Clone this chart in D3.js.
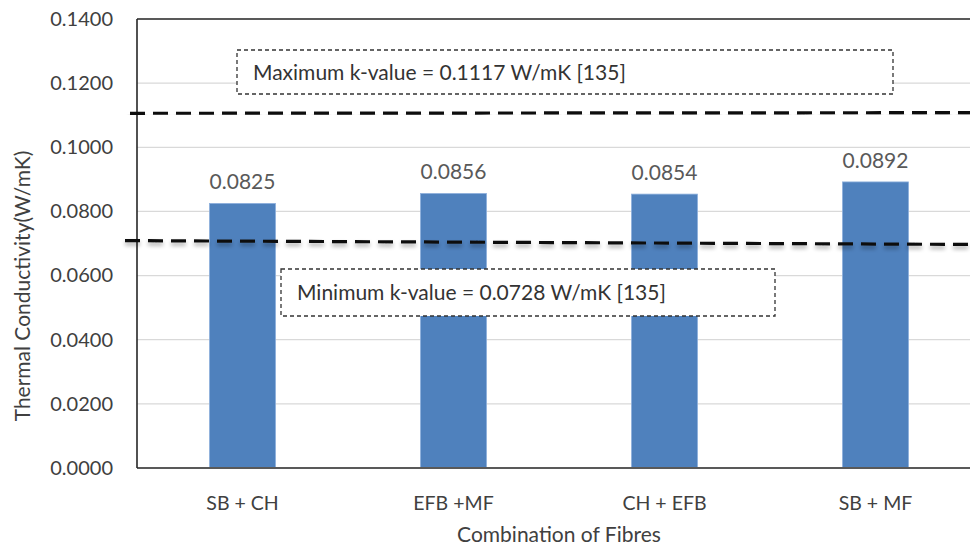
<!DOCTYPE html>
<html><head><meta charset="utf-8">
<script src="https://cdn.jsdelivr.net/npm/d3@7"></script>
<style>html,body{margin:0;padding:0;background:#fff;}svg{display:block;font-family:Lato,"Open Sans",sans-serif;}</style>
</head><body>
<svg id="c" width="970" height="548"></svg>
<script>
const categories = ["SB + CH", "EFB +MF", "CH + EFB", "SB + MF"];
const values = [0.0825, 0.0856, 0.0854, 0.0892];
const yTicks = [0, 0.02, 0.04, 0.06, 0.08, 0.10, 0.12, 0.14];
// reference lines as drawn (value at left end, value at right end)
const maxLine = [0.1106, 0.1108];
const minLine = [0.0709, 0.0697];
const maxText = "Maximum k-value = 0.1117 W/mK [135]";
const minText = "Minimum k-value = 0.0728 W/mK [135]";
const yTitle = "Thermal Conductivity(W/mK)";
const xTitle = "Combination of Fibres";

const svg = d3.select("#c");
const L = 137, R = 981, T = 19, B = 468;
const x = d3.scaleBand().domain(categories).range([L, R]).paddingInner(0.687).paddingOuter(0.3435);
const y = d3.scaleLinear().domain([0, 0.14]).range([B, T]);

const defs = svg.append("defs");
const f = defs.append("filter").attr("id","sh").attr("x","-5%").attr("y","-200%").attr("width","110%").attr("height","500%");
f.append("feGaussianBlur").attr("in","SourceAlpha").attr("stdDeviation",2.2).attr("result","b");
f.append("feOffset").attr("in","b").attr("dy",3).attr("result","o");
f.append("feComponentTransfer").attr("in","o").attr("result","oa").append("feFuncA").attr("type","linear").attr("slope",0.35);
const fm = f.append("feMerge"); fm.append("feMergeNode").attr("in","oa"); fm.append("feMergeNode").attr("in","SourceGraphic");

// gridlines
svg.append("g").selectAll("line").data(yTicks.filter(d=>d>0 && d<0.14)).join("line")
  .attr("x1", L).attr("x2", 970).attr("y1", d=>y(d)).attr("y2", d=>y(d))
  .attr("stroke", "#d9d9d9").attr("stroke-width", 1.2);

// y axis labels
const yAxis = d3.axisLeft(y).tickValues(yTicks).tickFormat(d3.format(".4f")).tickSize(0).tickPadding(24);
const ga = svg.append("g").attr("transform", `translate(${L},0)`).call(yAxis);
ga.select(".domain").remove();
ga.selectAll("text").attr("font-size", 20).attr("fill", "#404040").attr("font-family","Lato");

// bars
svg.append("g").selectAll("rect").data(values).join("rect")
  .attr("x", (d,i)=>x(categories[i])).attr("width", x.bandwidth())
  .attr("y", d=>y(d)).attr("height", d=>y(0)-y(d))
  .attr("fill", "#4f81bd").attr("stroke", "#8eb0dc").attr("stroke-width", 0.8);

// data labels
svg.append("g").selectAll("text").data(values).join("text")
  .attr("x", (d,i)=>x(categories[i]) + x.bandwidth()/2).attr("y", d=>y(d) - 14)
  .attr("text-anchor","middle").attr("font-size", 21).attr("fill","#595959")
  .text(d=>d3.format(".4f")(d));

// axes lines
svg.append("line").attr("x1",L).attr("x2",970).attr("y1",y(0.14)).attr("y2",y(0.14)).attr("stroke","#595959").attr("stroke-width",1.8);
svg.append("line").attr("x1",L).attr("x2",970).attr("y1",y(0)).attr("y2",y(0)).attr("stroke","#595959").attr("stroke-width",1.8);
svg.append("line").attr("x1",L).attr("x2",L).attr("y1",y(0.14)).attr("y2",y(0)).attr("stroke","#262626").attr("stroke-width",1.6);

// x axis labels
const xAxis = d3.axisBottom(x).tickSize(0).tickPadding(28);
const gx = svg.append("g").attr("transform", `translate(0,${B})`).call(xAxis);
gx.select(".domain").remove();
gx.selectAll("text").attr("font-size", 19.5).attr("fill","#404040").attr("font-family","Lato");

// titles
svg.append("text").attr("x", (L+R)/2).attr("y", 542).attr("text-anchor","middle")
  .attr("font-size", 21).attr("fill","#404040").text(xTitle);
svg.append("text").attr("transform", `translate(30,${286}) rotate(-90)`).attr("text-anchor","middle")
  .attr("font-size", 21).attr("fill","#404040").text(yTitle);

// reference dashed lines
function refLine(v, x0){
  svg.append("line").attr("x1", x0).attr("x2", 972).attr("y1", y(v[0])).attr("y2", y(v[1]))
    .attr("stroke","#111").attr("stroke-width",3.2).attr("stroke-dasharray","15 8")
    .attr("filter","url(#sh)");
}
refLine(maxLine, 130);
refLine(minLine, 125);

// annotation boxes
function box(x0, y0, x1, y1, txt, tx){
  svg.append("rect").attr("x", x0).attr("y", y0).attr("width", x1-x0).attr("height", y1-y0)
    .attr("fill","#fff").attr("stroke","#333").attr("stroke-width",1.3).attr("stroke-dasharray","4 3");
  svg.append("text").attr("x", tx).attr("y", (y0+y1)/2 + 7.5).attr("font-size", 21).attr("fill","#333").text(txt);
}
box(237, 50, 893, 94, maxText, 253);
box(281, 269, 775, 316, minText, 297);
</script>
</body></html>
